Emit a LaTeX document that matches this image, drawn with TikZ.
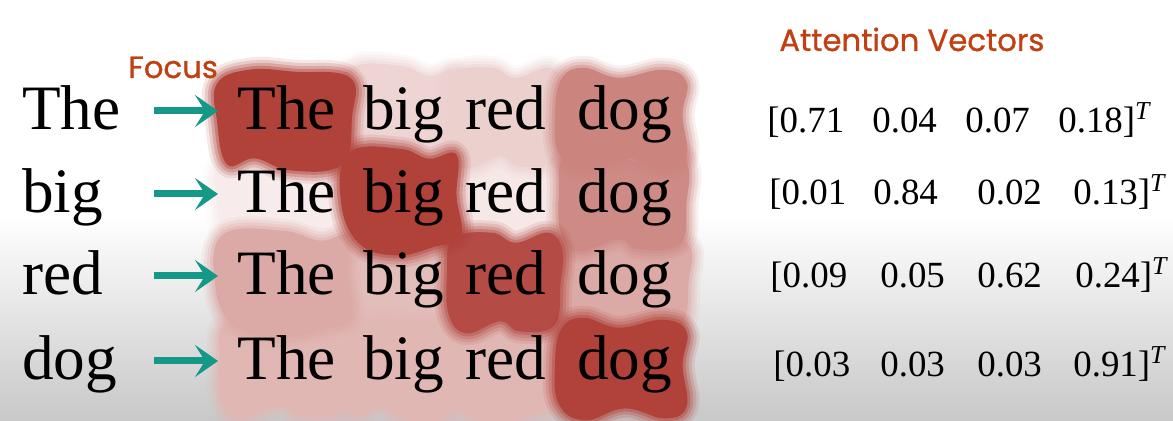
\documentclass[tikz,border=0pt]{standalone}
\usepackage{fontspec}
\setmainfont{Liberation Serif}
\newfontfamily\headfont[FakeBold=1]{Poppins}
\usetikzlibrary{arrows.meta}
\definecolor{blobred}{RGB}{176,66,58}
\definecolor{arrowteal}{RGB}{20,152,136}
\definecolor{headred}{RGB}{192,64,18}
\definecolor{bggray}{RGB}{200,200,200}
\pgfdeclarelayer{back}
\pgfdeclarelayer{blobs}
\pgfsetlayers{back,blobs,main}
% outline points of a patch round the word node \bn
\def\blobshapeA{([shift={(-16,6)}]\bn.north west) ([shift={(6,18)}]\bn.north west)
  ([shift={(-6,8)}]\bn.north) ([shift={(-10,16)}]\bn.north east) ([shift={(14,4)}]\bn.north east)
  ([shift={(10,0)}]\bn.east) ([shift={(14,-12)}]\bn.south east) ([shift={(-8,-24)}]\bn.south east)
  ([shift={(0,-14)}]\bn.south) ([shift={(8,-26)}]\bn.south west) ([shift={(-18,-10)}]\bn.south west)
  ([shift={(-22,0)}]\bn.west)}
\def\blobshapeB{([shift={(-12,12)}]\bn.north west) ([shift={(-14,18)}]\bn.north)
  ([shift={(10,8)}]\bn.north) ([shift={(2,18)}]\bn.north east) ([shift={(16,0)}]\bn.north east)
  ([shift={(14,-4)}]\bn.east) ([shift={(8,-16)}]\bn.south east) ([shift={(14,-22)}]\bn.south)
  ([shift={(-6,-12)}]\bn.south) ([shift={(2,-24)}]\bn.south west) ([shift={(-16,-6)}]\bn.south west)
  ([shift={(-18,6)}]\bn.west)}
\def\blobshapeC{([shift={(-20,2)}]\bn.north west) ([shift={(12,16)}]\bn.north west)
  ([shift={(8,14)}]\bn.north) ([shift={(14,8)}]\bn.north east) ([shift={(16,-2)}]\bn.east)
  ([shift={(6,-20)}]\bn.south east) ([shift={(4,-26)}]\bn.south) ([shift={(18,-14)}]\bn.south west)
  ([shift={(-10,-20)}]\bn.south west) ([shift={(-20,-6)}]\bn.west)}
\def\blobshapeD{([shift={(-14,16)}]\bn.north west) ([shift={(-4,20)}]\bn.north)
  ([shift={(-16,10)}]\bn.north east) ([shift={(12,14)}]\bn.north east) ([shift={(12,2)}]\bn.east)
  ([shift={(16,-8)}]\bn.south east) ([shift={(-12,-20)}]\bn.south east) ([shift={(-8,-28)}]\bn.south)
  ([shift={(-4,-16)}]\bn.south west) ([shift={(-22,-4)}]\bn.west)}
% soft red patch behind word node #1, #2 = strength in percent, #3 = shape
\newcommand{\wordblob}[3]{%
  \def\bn{#1}%
  \edef\blobpts{\csname blobshape#3\endcsname}%
  \foreach \ex/\op in {12/0.12, 9/0.18, 6/0.25, 3/0.4}{
    \edef\blobcmd{\noexpand\draw[blobred!#2!white, opacity=\op, line width=\ex*0.04cm,
      line join=round] plot[smooth cycle, tension=0.7] coordinates {\blobpts};}%
    \blobcmd
  }
  \edef\blobcmd{\noexpand\fill[blobred!#2!white]
    plot[smooth cycle, tension=0.7] coordinates {\blobpts};}%
  \blobcmd}

\begin{document}
\begin{tikzpicture}[x=0.02cm, y=0.02cm,
  qword/.style={anchor=base west, inner sep=0pt, font=\fontsize{36}{40}\selectfont},
  word/.style={qword, text height=25pt, text depth=8pt},
  vec/.style={anchor=base west, inner sep=0pt, font=\fontsize{21}{24}\selectfont},
  head/.style={anchor=base west, inner sep=0pt, text=headred, font=\headfont\fontsize{17.5}{20}\selectfont},
  arr/.style={-{Stealth[length=0.46cm, width=0.64cm, inset=0.2cm]}, line width=0.14cm, draw=arrowteal, shorten >=0.38cm}
]
\useasboundingbox (0,0) rectangle (1173,-421);
\begin{pgfonlayer}{back}
  \fill[white] (0,0) rectangle (1173,-215);
  \shade[top color=white, bottom color=bggray] (0,-215) rectangle (1173,-421);
\end{pgfonlayer}

% query word, arrow, sentence
\foreach \r/\q/\y in {1/The/130, 2/big/213, 3/red/295, 4/dog/380}{
  \node[qword] (q\r) at (22,-\y) {\q};
  \node[word] (s\r-a) at (237,-\y) {The};
  \node[word] (s\r-b) at (363,-\y) {big};
  \node[word] (s\r-c) at (465,-\y) {red};
  \node[word] (s\r-d) at (577,-\y) {dog};
  \coordinate (f\r) at (154,-\y+19);
  \draw[arr] (f\r) -- (s\r-a.west |- f\r);
}

% attention patches, weakest first
\begin{pgfonlayer}{blobs}
\foreach \w/\p/\s in {s2-a/10/C, s2-c/12/A, s1-b/22/D, s1-c/25/B, s3-b/35/A, s4-a/38/B,
    s4-b/38/C, s4-c/38/D, s3-a/45/D, s3-d/45/C, s2-d/62/B, s1-d/65/A, s3-c/95/B,
    s1-a/100/C, s2-b/100/D, s4-d/100/A}{
  \wordblob{\w}{\p}{\s}
}
\end{pgfonlayer}

\node[head] (focus) at (128,-78) {Focus};
\node[head] (attn) at (779,-51) {Attention Vectors};

% attention vectors
\foreach \r/\y/\xa/\xb/\xc/\xd/\nA/\nB/\nC/\nD in {1/133/767/872/965/1058/0.71/0.04/0.07/0.18,
    2/205/769/873/977/1073/0.01/0.84/0.02/0.13, 3/288/770/880/977/1075/0.09/0.05/0.62/0.24,
    4/377/773/880/977/1073/0.03/0.03/0.03/0.91}{
  \node[vec] (v\r-a) at (\xa,-\y) {[\nA};
  \node[vec] (v\r-b) at (\xb,-\y) {\nB};
  \node[vec] (v\r-c) at (\xc,-\y) {\nC};
  \node[vec] (v\r-d) at (\xd,-\y) {\nD]\textsuperscript{\textit{T}}};
}
\end{tikzpicture}
\end{document}
